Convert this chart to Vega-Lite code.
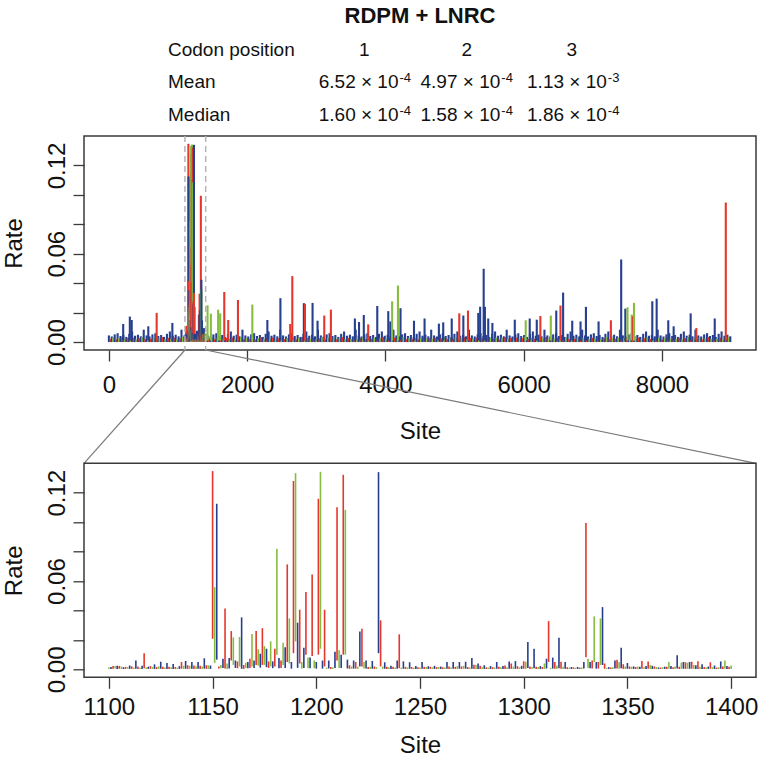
{
"$schema": "https://vega.github.io/schema/vega-lite/v6.json",
"padding": {"left": 1, "top": 0, "right": 0, "bottom": 0},
"background": "white",
"config": {
  "font": "Liberation Sans",
  "view": {"stroke": "#3a3a3a", "strokeWidth": 1.5},
  "axis": {"labelFont": "Liberation Sans", "titleFont": "Liberation Sans", "labelFontSize": 24, "titleFontSize": 24, "titleFontWeight": "normal", "labelColor": "#111", "titleColor": "#111", "tickColor": "#3a3a3a", "tickWidth": 1.3, "tickSize": 11, "domain": false, "grid": false, "labelOverlap": false}
},
"datasets": {
"sites": [
{"s":0,"p":3,"l":0,"h":0.0045},{"s":22,"p":1,"l":0,"h":0.0022},{"s":42,"p":3,"l":0,"h":0.0038},{"s":62,"p":2,"l":0,"h":0.003},
{"s":84,"p":3,"l":0,"h":0.0052},{"s":106,"p":1,"l":0,"h":0.0018},{"s":126,"p":3,"l":0,"h":0.006},{"s":146,"p":2,"l":0,"h":0.0026},
{"s":168,"p":3,"l":0,"h":0.0041},{"s":190,"p":1,"l":0,"h":0.0034},{"s":210,"p":3,"l":0,"h":0.0048},{"s":230,"p":2,"l":0,"h":0.002},
{"s":252,"p":3,"l":0,"h":0.0035},{"s":274,"p":1,"l":0,"h":0.0028},{"s":294,"p":3,"l":0,"h":0.0056},{"s":314,"p":2,"l":0,"h":0.0022},
{"s":336,"p":3,"l":0,"h":0.0072},{"s":358,"p":1,"l":0,"h":0.003},{"s":378,"p":3,"l":0,"h":0.0043},{"s":398,"p":2,"l":0,"h":0.0018},
{"s":420,"p":3,"l":0,"h":0.005},{"s":442,"p":1,"l":0,"h":0.0026},{"s":462,"p":3,"l":0,"h":0.0039},{"s":482,"p":2,"l":0,"h":0.0034},
{"s":504,"p":3,"l":0,"h":0.0084},{"s":526,"p":1,"l":0,"h":0.002},{"s":546,"p":3,"l":0,"h":0.0045},{"s":566,"p":2,"l":0,"h":0.0028},
{"s":588,"p":3,"l":0,"h":0.0038},{"s":610,"p":1,"l":0,"h":0.0022},{"s":630,"p":3,"l":0,"h":0.0052},{"s":650,"p":2,"l":0,"h":0.003},
{"s":672,"p":3,"l":0,"h":0.006},{"s":694,"p":1,"l":0,"h":0.0018},{"s":714,"p":3,"l":0,"h":0.0041},{"s":734,"p":2,"l":0,"h":0.0026},
{"s":756,"p":3,"l":0,"h":0.0048},{"s":778,"p":1,"l":0,"h":0.0034},{"s":798,"p":3,"l":0,"h":0.0035},{"s":818,"p":2,"l":0,"h":0.002},
{"s":840,"p":3,"l":0,"h":0.0056},{"s":862,"p":1,"l":0,"h":0.0028},{"s":882,"p":3,"l":0,"h":0.0072},{"s":902,"p":2,"l":0,"h":0.0022},
{"s":924,"p":3,"l":0,"h":0.0043},{"s":946,"p":1,"l":0,"h":0.003},{"s":966,"p":3,"l":0,"h":0.005},{"s":986,"p":2,"l":0,"h":0.0018},
{"s":1008,"p":3,"l":0,"h":0.0039},{"s":1030,"p":1,"l":0,"h":0.0026},{"s":1050,"p":3,"l":0,"h":0.0084},{"s":1070,"p":2,"l":0,"h":0.0034},
{"s":1092,"p":3,"l":0,"h":0.0045},
{"s":1428,"p":3,"l":0,"h":0.0045},{"s":1450,"p":1,"l":0,"h":0.0022},{"s":1470,"p":3,"l":0,"h":0.0038},{"s":1490,"p":2,"l":0,"h":0.003},
{"s":1512,"p":3,"l":0,"h":0.0052},{"s":1534,"p":1,"l":0,"h":0.0018},{"s":1554,"p":3,"l":0,"h":0.006},{"s":1574,"p":2,"l":0,"h":0.0026},
{"s":1596,"p":3,"l":0,"h":0.0041},{"s":1618,"p":1,"l":0,"h":0.0034},{"s":1638,"p":3,"l":0,"h":0.0048},{"s":1658,"p":2,"l":0,"h":0.002},
{"s":1680,"p":3,"l":0,"h":0.0035},{"s":1702,"p":1,"l":0,"h":0.0028},{"s":1722,"p":3,"l":0,"h":0.0056},{"s":1742,"p":2,"l":0,"h":0.0022},
{"s":1764,"p":3,"l":0,"h":0.0072},{"s":1786,"p":1,"l":0,"h":0.003},{"s":1806,"p":3,"l":0,"h":0.0043},{"s":1826,"p":2,"l":0,"h":0.0018},
{"s":1848,"p":3,"l":0,"h":0.005},{"s":1870,"p":1,"l":0,"h":0.0026},{"s":1890,"p":3,"l":0,"h":0.0039},{"s":1910,"p":2,"l":0,"h":0.0034},
{"s":1932,"p":3,"l":0,"h":0.0084},{"s":1954,"p":1,"l":0,"h":0.002},{"s":1974,"p":3,"l":0,"h":0.0045},{"s":1994,"p":2,"l":0,"h":0.0028},
{"s":2016,"p":3,"l":0,"h":0.0038},{"s":2038,"p":1,"l":0,"h":0.0022},{"s":2058,"p":3,"l":0,"h":0.0052},{"s":2078,"p":2,"l":0,"h":0.003},
{"s":2100,"p":3,"l":0,"h":0.006},{"s":2122,"p":1,"l":0,"h":0.0018},{"s":2142,"p":3,"l":0,"h":0.0041},{"s":2162,"p":2,"l":0,"h":0.0026},
{"s":2184,"p":3,"l":0,"h":0.0048},{"s":2206,"p":1,"l":0,"h":0.0034},{"s":2226,"p":3,"l":0,"h":0.0035},{"s":2246,"p":2,"l":0,"h":0.002},
{"s":2268,"p":3,"l":0,"h":0.0056},{"s":2290,"p":1,"l":0,"h":0.0028},{"s":2310,"p":3,"l":0,"h":0.0072},{"s":2330,"p":2,"l":0,"h":0.0022},
{"s":2352,"p":3,"l":0,"h":0.0043},{"s":2374,"p":1,"l":0,"h":0.003},{"s":2394,"p":3,"l":0,"h":0.005},{"s":2414,"p":2,"l":0,"h":0.0018},
{"s":2436,"p":3,"l":0,"h":0.0039},{"s":2458,"p":1,"l":0,"h":0.0026},{"s":2478,"p":3,"l":0,"h":0.0084},{"s":2498,"p":2,"l":0,"h":0.0034},
{"s":2520,"p":3,"l":0,"h":0.0045},{"s":2542,"p":1,"l":0,"h":0.002},{"s":2562,"p":3,"l":0,"h":0.0038},{"s":2582,"p":2,"l":0,"h":0.0028},
{"s":2604,"p":3,"l":0,"h":0.0052},{"s":2626,"p":1,"l":0,"h":0.0022},{"s":2646,"p":3,"l":0,"h":0.006},{"s":2666,"p":2,"l":0,"h":0.003},
{"s":2688,"p":3,"l":0,"h":0.0041},{"s":2710,"p":1,"l":0,"h":0.0018},{"s":2730,"p":3,"l":0,"h":0.0048},{"s":2750,"p":2,"l":0,"h":0.0026},
{"s":2772,"p":3,"l":0,"h":0.0035},{"s":2794,"p":1,"l":0,"h":0.0034},{"s":2814,"p":3,"l":0,"h":0.0056},{"s":2834,"p":2,"l":0,"h":0.002},
{"s":2856,"p":3,"l":0,"h":0.0072},{"s":2878,"p":1,"l":0,"h":0.0028},{"s":2898,"p":3,"l":0,"h":0.0043},{"s":2918,"p":2,"l":0,"h":0.0022},
{"s":2940,"p":3,"l":0,"h":0.005},{"s":2962,"p":1,"l":0,"h":0.003},{"s":2982,"p":3,"l":0,"h":0.0039},{"s":3002,"p":2,"l":0,"h":0.0018},
{"s":3024,"p":3,"l":0,"h":0.0084},{"s":3046,"p":1,"l":0,"h":0.0026},{"s":3066,"p":3,"l":0,"h":0.0045},{"s":3086,"p":2,"l":0,"h":0.0034},
{"s":3108,"p":3,"l":0,"h":0.0038},{"s":3130,"p":1,"l":0,"h":0.002},{"s":3150,"p":3,"l":0,"h":0.0052},{"s":3170,"p":2,"l":0,"h":0.0028},
{"s":3192,"p":3,"l":0,"h":0.006},{"s":3214,"p":1,"l":0,"h":0.0022},{"s":3234,"p":3,"l":0,"h":0.0041},{"s":3254,"p":2,"l":0,"h":0.003},
{"s":3276,"p":3,"l":0,"h":0.0048},{"s":3298,"p":1,"l":0,"h":0.0018},{"s":3318,"p":3,"l":0,"h":0.0035},{"s":3338,"p":2,"l":0,"h":0.0026},
{"s":3360,"p":3,"l":0,"h":0.0056},{"s":3382,"p":1,"l":0,"h":0.0034},{"s":3402,"p":3,"l":0,"h":0.0072},{"s":3422,"p":2,"l":0,"h":0.002},
{"s":3444,"p":3,"l":0,"h":0.0043},{"s":3466,"p":1,"l":0,"h":0.0028},{"s":3486,"p":3,"l":0,"h":0.005},{"s":3506,"p":2,"l":0,"h":0.0022},
{"s":3528,"p":3,"l":0,"h":0.0039},{"s":3550,"p":1,"l":0,"h":0.003},{"s":3570,"p":3,"l":0,"h":0.0084},{"s":3590,"p":2,"l":0,"h":0.0018},
{"s":3612,"p":3,"l":0,"h":0.0045},{"s":3634,"p":1,"l":0,"h":0.0026},{"s":3654,"p":3,"l":0,"h":0.0038},{"s":3674,"p":2,"l":0,"h":0.0034},
{"s":3696,"p":3,"l":0,"h":0.0052},{"s":3718,"p":1,"l":0,"h":0.002},{"s":3738,"p":3,"l":0,"h":0.006},{"s":3758,"p":2,"l":0,"h":0.0028},
{"s":3780,"p":3,"l":0,"h":0.0041},{"s":3802,"p":1,"l":0,"h":0.0022},{"s":3822,"p":3,"l":0,"h":0.0048},{"s":3842,"p":2,"l":0,"h":0.003},
{"s":3864,"p":3,"l":0,"h":0.0035},{"s":3886,"p":1,"l":0,"h":0.0018},{"s":3906,"p":3,"l":0,"h":0.0056},{"s":3926,"p":2,"l":0,"h":0.0026},
{"s":3948,"p":3,"l":0,"h":0.0072},{"s":3970,"p":1,"l":0,"h":0.0034},{"s":3990,"p":3,"l":0,"h":0.0043},{"s":4010,"p":2,"l":0,"h":0.002},
{"s":4032,"p":3,"l":0,"h":0.005},{"s":4054,"p":1,"l":0,"h":0.0028},{"s":4074,"p":3,"l":0,"h":0.0039},{"s":4094,"p":2,"l":0,"h":0.0022},
{"s":4116,"p":3,"l":0,"h":0.0084},{"s":4138,"p":1,"l":0,"h":0.003},{"s":4158,"p":3,"l":0,"h":0.0045},{"s":4178,"p":2,"l":0,"h":0.0018},
{"s":4200,"p":3,"l":0,"h":0.0038},{"s":4222,"p":1,"l":0,"h":0.0026},{"s":4242,"p":3,"l":0,"h":0.0052},{"s":4262,"p":2,"l":0,"h":0.0034},
{"s":4284,"p":3,"l":0,"h":0.006},{"s":4306,"p":1,"l":0,"h":0.002},{"s":4326,"p":3,"l":0,"h":0.0041},{"s":4346,"p":2,"l":0,"h":0.0028},
{"s":4368,"p":3,"l":0,"h":0.0048},{"s":4390,"p":1,"l":0,"h":0.0022},{"s":4410,"p":3,"l":0,"h":0.0035},{"s":4430,"p":2,"l":0,"h":0.003},
{"s":4452,"p":3,"l":0,"h":0.0056},{"s":4474,"p":1,"l":0,"h":0.0018},{"s":4494,"p":3,"l":0,"h":0.0072},{"s":4514,"p":2,"l":0,"h":0.0026},
{"s":4536,"p":3,"l":0,"h":0.0043},{"s":4558,"p":1,"l":0,"h":0.0034},{"s":4578,"p":3,"l":0,"h":0.005},{"s":4598,"p":2,"l":0,"h":0.002},
{"s":4620,"p":3,"l":0,"h":0.0039},{"s":4642,"p":1,"l":0,"h":0.0028},{"s":4662,"p":3,"l":0,"h":0.0084},{"s":4682,"p":2,"l":0,"h":0.0022},
{"s":4704,"p":3,"l":0,"h":0.0045},{"s":4726,"p":1,"l":0,"h":0.003},{"s":4746,"p":3,"l":0,"h":0.0038},{"s":4766,"p":2,"l":0,"h":0.0018},
{"s":4788,"p":3,"l":0,"h":0.0052},{"s":4810,"p":1,"l":0,"h":0.0026},{"s":4830,"p":3,"l":0,"h":0.006},{"s":4850,"p":2,"l":0,"h":0.0034},
{"s":4872,"p":3,"l":0,"h":0.0041},{"s":4894,"p":1,"l":0,"h":0.002},{"s":4914,"p":3,"l":0,"h":0.0048},{"s":4934,"p":2,"l":0,"h":0.0028},
{"s":4956,"p":3,"l":0,"h":0.0035},{"s":4978,"p":1,"l":0,"h":0.0022},{"s":4998,"p":3,"l":0,"h":0.0056},{"s":5018,"p":2,"l":0,"h":0.003},
{"s":5040,"p":3,"l":0,"h":0.0072},{"s":5062,"p":1,"l":0,"h":0.0018},{"s":5082,"p":3,"l":0,"h":0.0043},{"s":5102,"p":2,"l":0,"h":0.0026},
{"s":5124,"p":3,"l":0,"h":0.005},{"s":5146,"p":1,"l":0,"h":0.0034},{"s":5166,"p":3,"l":0,"h":0.0039},{"s":5186,"p":2,"l":0,"h":0.002},
{"s":5208,"p":3,"l":0,"h":0.0084},{"s":5230,"p":1,"l":0,"h":0.0028},{"s":5250,"p":3,"l":0,"h":0.0045},{"s":5270,"p":2,"l":0,"h":0.0022},
{"s":5292,"p":3,"l":0,"h":0.0038},{"s":5314,"p":1,"l":0,"h":0.003},{"s":5334,"p":3,"l":0,"h":0.0052},{"s":5354,"p":2,"l":0,"h":0.0018},
{"s":5376,"p":3,"l":0,"h":0.006},{"s":5398,"p":1,"l":0,"h":0.0026},{"s":5418,"p":3,"l":0,"h":0.0041},{"s":5438,"p":2,"l":0,"h":0.0034},
{"s":5460,"p":3,"l":0,"h":0.0048},{"s":5482,"p":1,"l":0,"h":0.002},{"s":5502,"p":3,"l":0,"h":0.0035},{"s":5522,"p":2,"l":0,"h":0.0028},
{"s":5544,"p":3,"l":0,"h":0.0056},{"s":5566,"p":1,"l":0,"h":0.0022},{"s":5586,"p":3,"l":0,"h":0.0072},{"s":5606,"p":2,"l":0,"h":0.003},
{"s":5628,"p":3,"l":0,"h":0.0043},{"s":5650,"p":1,"l":0,"h":0.0018},{"s":5670,"p":3,"l":0,"h":0.005},{"s":5690,"p":2,"l":0,"h":0.0026},
{"s":5712,"p":3,"l":0,"h":0.0039},{"s":5734,"p":1,"l":0,"h":0.0034},{"s":5754,"p":3,"l":0,"h":0.0084},{"s":5774,"p":2,"l":0,"h":0.002},
{"s":5796,"p":3,"l":0,"h":0.0045},{"s":5818,"p":1,"l":0,"h":0.0028},{"s":5838,"p":3,"l":0,"h":0.0038},{"s":5858,"p":2,"l":0,"h":0.0022},
{"s":5880,"p":3,"l":0,"h":0.0052},{"s":5902,"p":1,"l":0,"h":0.003},{"s":5922,"p":3,"l":0,"h":0.006},{"s":5942,"p":2,"l":0,"h":0.0018},
{"s":5964,"p":3,"l":0,"h":0.0041},{"s":5986,"p":1,"l":0,"h":0.0026},{"s":6006,"p":3,"l":0,"h":0.0048},{"s":6026,"p":2,"l":0,"h":0.0034},
{"s":6048,"p":3,"l":0,"h":0.0035},{"s":6070,"p":1,"l":0,"h":0.002},{"s":6090,"p":3,"l":0,"h":0.0056},{"s":6110,"p":2,"l":0,"h":0.0028},
{"s":6132,"p":3,"l":0,"h":0.0072},{"s":6154,"p":1,"l":0,"h":0.0022},{"s":6174,"p":3,"l":0,"h":0.0043},{"s":6194,"p":2,"l":0,"h":0.003},
{"s":6216,"p":3,"l":0,"h":0.005},{"s":6238,"p":1,"l":0,"h":0.0018},{"s":6258,"p":3,"l":0,"h":0.0039},{"s":6278,"p":2,"l":0,"h":0.0026},
{"s":6300,"p":3,"l":0,"h":0.0084},{"s":6322,"p":1,"l":0,"h":0.0034},{"s":6342,"p":3,"l":0,"h":0.0045},{"s":6362,"p":2,"l":0,"h":0.002},
{"s":6384,"p":3,"l":0,"h":0.0038},{"s":6406,"p":1,"l":0,"h":0.0028},{"s":6426,"p":3,"l":0,"h":0.0052},{"s":6446,"p":2,"l":0,"h":0.0022},
{"s":6468,"p":3,"l":0,"h":0.006},{"s":6490,"p":1,"l":0,"h":0.003},{"s":6510,"p":3,"l":0,"h":0.0041},{"s":6530,"p":2,"l":0,"h":0.0018},
{"s":6552,"p":3,"l":0,"h":0.0048},{"s":6574,"p":1,"l":0,"h":0.0026},{"s":6594,"p":3,"l":0,"h":0.0035},{"s":6614,"p":2,"l":0,"h":0.0034},
{"s":6636,"p":3,"l":0,"h":0.0056},{"s":6658,"p":1,"l":0,"h":0.002},{"s":6678,"p":3,"l":0,"h":0.0072},{"s":6698,"p":2,"l":0,"h":0.0028},
{"s":6720,"p":3,"l":0,"h":0.0043},{"s":6742,"p":1,"l":0,"h":0.0022},{"s":6762,"p":3,"l":0,"h":0.005},{"s":6782,"p":2,"l":0,"h":0.003},
{"s":6804,"p":3,"l":0,"h":0.0039},{"s":6826,"p":1,"l":0,"h":0.0018},{"s":6846,"p":3,"l":0,"h":0.0084},{"s":6866,"p":2,"l":0,"h":0.0026},
{"s":6888,"p":3,"l":0,"h":0.0045},{"s":6910,"p":1,"l":0,"h":0.0034},{"s":6930,"p":3,"l":0,"h":0.0038},{"s":6950,"p":2,"l":0,"h":0.002},
{"s":6972,"p":3,"l":0,"h":0.0052},{"s":6994,"p":1,"l":0,"h":0.0028},{"s":7014,"p":3,"l":0,"h":0.006},{"s":7034,"p":2,"l":0,"h":0.0022},
{"s":7056,"p":3,"l":0,"h":0.0041},{"s":7078,"p":1,"l":0,"h":0.003},{"s":7098,"p":3,"l":0,"h":0.0048},{"s":7118,"p":2,"l":0,"h":0.0018},
{"s":7140,"p":3,"l":0,"h":0.0035},{"s":7162,"p":1,"l":0,"h":0.0026},{"s":7182,"p":3,"l":0,"h":0.0056},{"s":7202,"p":2,"l":0,"h":0.0034},
{"s":7224,"p":3,"l":0,"h":0.0072},{"s":7246,"p":1,"l":0,"h":0.002},{"s":7266,"p":3,"l":0,"h":0.0043},{"s":7286,"p":2,"l":0,"h":0.0028},
{"s":7308,"p":3,"l":0,"h":0.005},{"s":7330,"p":1,"l":0,"h":0.0022},{"s":7350,"p":3,"l":0,"h":0.0039},{"s":7370,"p":2,"l":0,"h":0.003},
{"s":7392,"p":3,"l":0,"h":0.0084},{"s":7414,"p":1,"l":0,"h":0.0018},{"s":7434,"p":3,"l":0,"h":0.0045},{"s":7454,"p":2,"l":0,"h":0.0026},
{"s":7476,"p":3,"l":0,"h":0.0038},{"s":7498,"p":1,"l":0,"h":0.0034},{"s":7518,"p":3,"l":0,"h":0.0052},{"s":7538,"p":2,"l":0,"h":0.002},
{"s":7560,"p":3,"l":0,"h":0.006},{"s":7582,"p":1,"l":0,"h":0.0028},{"s":7602,"p":3,"l":0,"h":0.0041},{"s":7622,"p":2,"l":0,"h":0.0022},
{"s":7644,"p":3,"l":0,"h":0.0048},{"s":7666,"p":1,"l":0,"h":0.003},{"s":7686,"p":3,"l":0,"h":0.0035},{"s":7706,"p":2,"l":0,"h":0.0018},
{"s":7728,"p":3,"l":0,"h":0.0056},{"s":7750,"p":1,"l":0,"h":0.0026},{"s":7770,"p":3,"l":0,"h":0.0072},{"s":7790,"p":2,"l":0,"h":0.0034},
{"s":7812,"p":3,"l":0,"h":0.0043},{"s":7834,"p":1,"l":0,"h":0.002},{"s":7854,"p":3,"l":0,"h":0.005},{"s":7874,"p":2,"l":0,"h":0.0028},
{"s":7896,"p":3,"l":0,"h":0.0039},{"s":7918,"p":1,"l":0,"h":0.0022},{"s":7938,"p":3,"l":0,"h":0.0084},{"s":7958,"p":2,"l":0,"h":0.003},
{"s":7980,"p":3,"l":0,"h":0.0045},{"s":8002,"p":1,"l":0,"h":0.0018},{"s":8022,"p":3,"l":0,"h":0.0038},{"s":8042,"p":2,"l":0,"h":0.0026},
{"s":8064,"p":3,"l":0,"h":0.0052},{"s":8086,"p":1,"l":0,"h":0.0034},{"s":8106,"p":3,"l":0,"h":0.006},{"s":8126,"p":2,"l":0,"h":0.002},
{"s":8148,"p":3,"l":0,"h":0.0041},{"s":8170,"p":1,"l":0,"h":0.0028},{"s":8190,"p":3,"l":0,"h":0.0048},{"s":8210,"p":2,"l":0,"h":0.0022},
{"s":8232,"p":3,"l":0,"h":0.0035},{"s":8254,"p":1,"l":0,"h":0.003},{"s":8274,"p":3,"l":0,"h":0.0056},{"s":8294,"p":2,"l":0,"h":0.0018},
{"s":8316,"p":3,"l":0,"h":0.0072},{"s":8338,"p":1,"l":0,"h":0.0026},{"s":8358,"p":3,"l":0,"h":0.0043},{"s":8378,"p":2,"l":0,"h":0.0034},
{"s":8400,"p":3,"l":0,"h":0.005},{"s":8422,"p":1,"l":0,"h":0.002},{"s":8442,"p":3,"l":0,"h":0.0039},{"s":8462,"p":2,"l":0,"h":0.0028},
{"s":8484,"p":3,"l":0,"h":0.0084},{"s":8506,"p":1,"l":0,"h":0.0022},{"s":8526,"p":3,"l":0,"h":0.0045},{"s":8546,"p":2,"l":0,"h":0.003},
{"s":8568,"p":3,"l":0,"h":0.0038},{"s":8590,"p":1,"l":0,"h":0.0018},{"s":8610,"p":3,"l":0,"h":0.0052},{"s":8630,"p":2,"l":0,"h":0.0026},
{"s":8652,"p":3,"l":0,"h":0.006},{"s":8674,"p":1,"l":0,"h":0.0034},{"s":8694,"p":3,"l":0,"h":0.0041},{"s":8714,"p":2,"l":0,"h":0.002},
{"s":8736,"p":3,"l":0,"h":0.0048},{"s":8758,"p":1,"l":0,"h":0.0028},{"s":8778,"p":3,"l":0,"h":0.0035},{"s":8798,"p":2,"l":0,"h":0.0022},
{"s":8820,"p":3,"l":0,"h":0.0056},{"s":8842,"p":1,"l":0,"h":0.003},{"s":8862,"p":3,"l":0,"h":0.0072},{"s":8882,"p":2,"l":0,"h":0.0018},
{"s":8904,"p":3,"l":0,"h":0.0043},{"s":8926,"p":1,"l":0,"h":0.0026},{"s":8946,"p":3,"l":0,"h":0.005},{"s":8966,"p":2,"l":0,"h":0.0034},
{"s":8988,"p":3,"l":0,"h":0.0039},
{"s":1100,"p":2,"l":0.0003,"h":0.0012},{"s":1101,"p":3,"l":0.0002,"h":0.0016},{"s":1102,"p":1,"l":0.0004,"h":0.0022},
{"s":1103,"p":2,"l":0.0005,"h":0.0023},{"s":1104,"p":3,"l":0.0003,"h":0.0024},{"s":1105,"p":1,"l":0.0004,"h":0.0023},
{"s":1106,"p":2,"l":0.0003,"h":0.0019},{"s":1107,"p":3,"l":0.0002,"h":0.0014},{"s":1108,"p":1,"l":0.0003,"h":0.0017},
{"s":1109,"p":2,"l":0.0004,"h":0.0016},{"s":1110,"p":3,"l":0.0003,"h":0.0026},{"s":1111,"p":1,"l":0.0003,"h":0.0021},
{"s":1112,"p":2,"l":0.0002,"h":0.0012},{"s":1113,"p":3,"l":0.0004,"h":0.006},{"s":1114,"p":1,"l":0.0003,"h":0.0019},
{"s":1115,"p":2,"l":0.0002,"h":0.0011},{"s":1116,"p":3,"l":0.0003,"h":0.0024},{"s":1117,"p":1,"l":0.0008,"h":0.011},
{"s":1118,"p":2,"l":0.0002,"h":0.0013},{"s":1119,"p":3,"l":0.0003,"h":0.0018},{"s":1120,"p":1,"l":0.0004,"h":0.0022},
{"s":1121,"p":2,"l":0.0003,"h":0.0016},{"s":1122,"p":3,"l":0.0003,"h":0.0034},{"s":1123,"p":1,"l":0.0002,"h":0.0015},
{"s":1124,"p":2,"l":0.0003,"h":0.002},{"s":1125,"p":3,"l":0.0004,"h":0.0052},{"s":1126,"p":1,"l":0.0003,"h":0.0018},
{"s":1127,"p":2,"l":0.0002,"h":0.0012},{"s":1128,"p":3,"l":0.0003,"h":0.0043},{"s":1129,"p":1,"l":0.0003,"h":0.0017},
{"s":1130,"p":2,"l":0.0002,"h":0.0014},{"s":1131,"p":3,"l":0.0003,"h":0.0036},{"s":1132,"p":1,"l":0.0003,"h":0.0016},
{"s":1133,"p":2,"l":0.0002,"h":0.0012},{"s":1134,"p":3,"l":0.0003,"h":0.0022},{"s":1135,"p":1,"l":0.0004,"h":0.005},
{"s":1136,"p":2,"l":0.0003,"h":0.0025},{"s":1137,"p":3,"l":0.0004,"h":0.0057},{"s":1138,"p":1,"l":0.0003,"h":0.0028},
{"s":1139,"p":2,"l":0.0003,"h":0.0024},{"s":1140,"p":3,"l":0.0004,"h":0.005},{"s":1141,"p":1,"l":0.0003,"h":0.0026},
{"s":1142,"p":2,"l":0.0003,"h":0.0021},{"s":1143,"p":3,"l":0.0004,"h":0.005},{"s":1144,"p":1,"l":0.0003,"h":0.0024},
{"s":1145,"p":2,"l":0.0002,"h":0.0019},{"s":1146,"p":3,"l":0.0005,"h":0.0075},{"s":1147,"p":1,"l":0.0003,"h":0.0028},
{"s":1148,"p":2,"l":0.0003,"h":0.0027},{"s":1149,"p":3,"l":0.0003,"h":0.0026},{"s":1150,"p":1,"l":0.0208,"h":0.1347},
{"s":1151,"p":2,"l":0.0043,"h":0.0559},{"s":1152,"p":3,"l":0.0066,"h":0.1125},{"s":1153,"p":1,"l":0.0005,"h":0.002},
{"s":1154,"p":2,"l":0.0008,"h":0.003},{"s":1155,"p":3,"l":0.001,"h":0.0072},{"s":1156,"p":1,"l":0.0005,"h":0.0414},
{"s":1157,"p":2,"l":0.0003,"h":0.004},{"s":1158,"p":3,"l":0.0006,"h":0.0077},{"s":1159,"p":1,"l":0.006,"h":0.026},
{"s":1160,"p":2,"l":0.003,"h":0.0217},{"s":1161,"p":3,"l":0.001,"h":0.006},{"s":1162,"p":1,"l":0.0008,"h":0.0054},
{"s":1163,"p":2,"l":0.002,"h":0.022},{"s":1164,"p":3,"l":0.0004,"h":0.0353},{"s":1165,"p":1,"l":0.0003,"h":0.003},
{"s":1166,"p":2,"l":0.001,"h":0.0045},{"s":1167,"p":3,"l":0.0008,"h":0.005},{"s":1168,"p":1,"l":0.001,"h":0.0072},
{"s":1169,"p":2,"l":0.002,"h":0.024},{"s":1170,"p":3,"l":0.001,"h":0.006},{"s":1171,"p":1,"l":0.003,"h":0.026},
{"s":1172,"p":2,"l":0.0025,"h":0.0136},{"s":1173,"p":3,"l":0.0012,"h":0.0106},{"s":1174,"p":1,"l":0.003,"h":0.028},
{"s":1175,"p":2,"l":0.003,"h":0.0158},{"s":1176,"p":3,"l":0.0015,"h":0.014},{"s":1177,"p":1,"l":0.001,"h":0.0054},
{"s":1178,"p":2,"l":0.002,"h":0.019},{"s":1179,"p":3,"l":0.0008,"h":0.0054},{"s":1180,"p":1,"l":0.002,"h":0.014},
{"s":1181,"p":2,"l":0.01,"h":0.082},{"s":1182,"p":3,"l":0.0008,"h":0.0077},{"s":1183,"p":1,"l":0.001,"h":0.006},
{"s":1184,"p":2,"l":0.003,"h":0.018},{"s":1185,"p":3,"l":0.001,"h":0.015},{"s":1186,"p":1,"l":0.005,"h":0.0713},
{"s":1187,"p":2,"l":0.004,"h":0.0346},{"s":1188,"p":3,"l":0.0005,"h":0.005},{"s":1189,"p":1,"l":0.011,"h":0.128},
{"s":1190,"p":2,"l":0.019,"h":0.1333},{"s":1191,"p":3,"l":0.001,"h":0.0317},{"s":1192,"p":1,"l":0.004,"h":0.0405},
{"s":1193,"p":2,"l":0.0005,"h":0.005},{"s":1194,"p":3,"l":0.001,"h":0.0147},{"s":1195,"p":1,"l":0.01,"h":0.0525},
{"s":1196,"p":2,"l":0.0008,"h":0.008},{"s":1197,"p":3,"l":0.0008,"h":0.008},{"s":1198,"p":1,"l":0.009,"h":0.0645},
{"s":1199,"p":2,"l":0.0008,"h":0.006},{"s":1200,"p":3,"l":0.0005,"h":0.005},{"s":1201,"p":1,"l":0.01,"h":0.1159},
{"s":1202,"p":2,"l":0.014,"h":0.1342},{"s":1203,"p":3,"l":0.0005,"h":0.006},{"s":1204,"p":1,"l":0.002,"h":0.0405},
{"s":1205,"p":2,"l":0.0003,"h":0.0012},{"s":1206,"p":3,"l":0.0006,"h":0.006},{"s":1207,"p":1,"l":0.0003,"h":0.0016},
{"s":1208,"p":2,"l":0.0002,"h":0.0012},{"s":1209,"p":3,"l":0.001,"h":0.012},{"s":1210,"p":1,"l":0.006,"h":0.1102},
{"s":1211,"p":2,"l":0.001,"h":0.013},{"s":1212,"p":3,"l":0.001,"h":0.01},{"s":1213,"p":1,"l":0.01,"h":0.1322},
{"s":1214,"p":2,"l":0.01,"h":0.1084},{"s":1215,"p":3,"l":0.0006,"h":0.0066},{"s":1216,"p":1,"l":0.0004,"h":0.0028},
{"s":1217,"p":2,"l":0.0003,"h":0.002},{"s":1218,"p":3,"l":0.0005,"h":0.006},{"s":1219,"p":1,"l":0.0005,"h":0.005},
{"s":1220,"p":2,"l":0.0003,"h":0.0018},{"s":1221,"p":3,"l":0.002,"h":0.0258},{"s":1222,"p":1,"l":0.002,"h":0.0276},
{"s":1223,"p":2,"l":0.0005,"h":0.005},{"s":1224,"p":3,"l":0.0005,"h":0.006},{"s":1225,"p":1,"l":0.0003,"h":0.0016},
{"s":1226,"p":2,"l":0.0003,"h":0.0018},{"s":1227,"p":3,"l":0.0004,"h":0.0057},{"s":1228,"p":1,"l":0.0003,"h":0.002},
{"s":1229,"p":2,"l":0.0003,"h":0.0015},{"s":1230,"p":3,"l":0.011,"h":0.134},{"s":1231,"p":1,"l":0.002,"h":0.0333},
{"s":1232,"p":2,"l":0.0003,"h":0.002},{"s":1233,"p":3,"l":0.0004,"h":0.0048},{"s":1234,"p":1,"l":0.0003,"h":0.0018},
{"s":1235,"p":2,"l":0.0002,"h":0.0014},{"s":1236,"p":3,"l":0.0003,"h":0.0025},{"s":1237,"p":1,"l":0.0003,"h":0.0017},
{"s":1238,"p":2,"l":0.0002,"h":0.0013},{"s":1239,"p":3,"l":0.0004,"h":0.006},{"s":1240,"p":1,"l":0.0008,"h":0.0238},
{"s":1241,"p":2,"l":0.0002,"h":0.0012},{"s":1242,"p":3,"l":0.0004,"h":0.0054},{"s":1243,"p":1,"l":0.0003,"h":0.0017},
{"s":1244,"p":2,"l":0.0002,"h":0.0013},{"s":1245,"p":3,"l":0.0004,"h":0.0048},{"s":1246,"p":1,"l":0.0003,"h":0.0016},
{"s":1247,"p":2,"l":0.0002,"h":0.0012},{"s":1248,"p":3,"l":0.0003,"h":0.0023},{"s":1249,"p":1,"l":0.0003,"h":0.0015},
{"s":1250,"p":2,"l":0.0002,"h":0.0013},{"s":1251,"p":3,"l":0.0004,"h":0.005},{"s":1252,"p":1,"l":0.0002,"h":0.0018},
{"s":1253,"p":2,"l":0.0002,"h":0.0016},{"s":1254,"p":3,"l":0.0003,"h":0.0021},{"s":1255,"p":1,"l":0.0003,"h":0.0018},
{"s":1256,"p":2,"l":0.0002,"h":0.0014},{"s":1257,"p":3,"l":0.0003,"h":0.0024},{"s":1258,"p":1,"l":0.0002,"h":0.0015},
{"s":1259,"p":2,"l":0.0003,"h":0.0017},{"s":1260,"p":3,"l":0.0003,"h":0.0019},{"s":1261,"p":1,"l":0.0002,"h":0.0014},
{"s":1262,"p":2,"l":0.0002,"h":0.0012},{"s":1263,"p":3,"l":0.0004,"h":0.005},{"s":1264,"p":1,"l":0.0003,"h":0.0019},
{"s":1265,"p":2,"l":0.0002,"h":0.0013},{"s":1266,"p":3,"l":0.0004,"h":0.005},{"s":1267,"p":1,"l":0.0003,"h":0.0017},
{"s":1268,"p":2,"l":0.0002,"h":0.0022},{"s":1269,"p":3,"l":0.0004,"h":0.005},{"s":1270,"p":1,"l":0.0003,"h":0.002},
{"s":1271,"p":2,"l":0.0003,"h":0.0024},{"s":1272,"p":3,"l":0.0004,"h":0.0052},{"s":1273,"p":1,"l":0.0002,"h":0.0016},
{"s":1274,"p":2,"l":0.0002,"h":0.0013},{"s":1275,"p":3,"l":0.0004,"h":0.0077},{"s":1276,"p":1,"l":0.0003,"h":0.0032},
{"s":1277,"p":2,"l":0.0002,"h":0.003},{"s":1278,"p":3,"l":0.0003,"h":0.004},{"s":1279,"p":1,"l":0.0003,"h":0.0024},
{"s":1280,"p":2,"l":0.0002,"h":0.0015},{"s":1281,"p":3,"l":0.0003,"h":0.0028},{"s":1282,"p":1,"l":0.0002,"h":0.0014},
{"s":1283,"p":2,"l":0.0002,"h":0.0012},{"s":1284,"p":3,"l":0.0003,"h":0.0022},{"s":1285,"p":1,"l":0.0002,"h":0.0015},
{"s":1286,"p":2,"l":0.0002,"h":0.0012},{"s":1287,"p":3,"l":0.0004,"h":0.005},{"s":1288,"p":1,"l":0.0003,"h":0.0018},
{"s":1289,"p":2,"l":0.0002,"h":0.0014},{"s":1290,"p":3,"l":0.0003,"h":0.0023},{"s":1291,"p":1,"l":0.0003,"h":0.0026},
{"s":1292,"p":2,"l":0.0002,"h":0.0015},{"s":1293,"p":3,"l":0.0004,"h":0.0054},{"s":1294,"p":1,"l":0.0003,"h":0.004},
{"s":1295,"p":2,"l":0.0002,"h":0.0018},{"s":1296,"p":3,"l":0.0004,"h":0.0056},{"s":1297,"p":1,"l":0.0003,"h":0.0022},
{"s":1298,"p":2,"l":0.0002,"h":0.0014},{"s":1299,"p":3,"l":0.0003,"h":0.0024},{"s":1300,"p":1,"l":0.0004,"h":0.0055},
{"s":1301,"p":2,"l":0.0003,"h":0.0052},{"s":1302,"p":3,"l":0.001,"h":0.0186},{"s":1303,"p":1,"l":0.0003,"h":0.002},
{"s":1304,"p":2,"l":0.0002,"h":0.0016},{"s":1305,"p":3,"l":0.0008,"h":0.014},{"s":1306,"p":1,"l":0.0003,"h":0.0018},
{"s":1307,"p":2,"l":0.0002,"h":0.0015},{"s":1308,"p":3,"l":0.0003,"h":0.0022},{"s":1309,"p":1,"l":0.0002,"h":0.0016},
{"s":1310,"p":2,"l":0.0003,"h":0.004},{"s":1311,"p":3,"l":0.0006,"h":0.0072},{"s":1312,"p":1,"l":0.005,"h":0.0328},
{"s":1313,"p":2,"l":0.0002,"h":0.001},{"s":1314,"p":3,"l":0.0005,"h":0.008},{"s":1315,"p":1,"l":0.0004,"h":0.005},
{"s":1316,"p":2,"l":0.0003,"h":0.0026},{"s":1317,"p":3,"l":0.0008,"h":0.0215},{"s":1318,"p":1,"l":0.0004,"h":0.0052},
{"s":1319,"p":2,"l":0.0002,"h":0.0018},{"s":1320,"p":3,"l":0.0004,"h":0.005},{"s":1321,"p":1,"l":0.0002,"h":0.0015},
{"s":1322,"p":2,"l":0.0002,"h":0.0012},{"s":1323,"p":3,"l":0.0003,"h":0.0016},{"s":1324,"p":1,"l":0.0002,"h":0.0013},
{"s":1325,"p":2,"l":0.0002,"h":0.0011},{"s":1326,"p":3,"l":0.0003,"h":0.0016},{"s":1327,"p":1,"l":0.0002,"h":0.0012},
{"s":1328,"p":2,"l":0.0002,"h":0.0013},{"s":1329,"p":3,"l":0.0005,"h":0.005},{"s":1330,"p":1,"l":0.0082,"h":0.0994},
{"s":1331,"p":2,"l":0.001,"h":0.0072},{"s":1332,"p":3,"l":0.0008,"h":0.005},{"s":1333,"p":1,"l":0.0006,"h":0.006},
{"s":1334,"p":2,"l":0.005,"h":0.036},{"s":1335,"p":3,"l":0.0005,"h":0.005},{"s":1336,"p":1,"l":0.0005,"h":0.005},
{"s":1337,"p":2,"l":0.003,"h":0.0346},{"s":1338,"p":3,"l":0.003,"h":0.0423},{"s":1339,"p":1,"l":0.0004,"h":0.004},
{"s":1340,"p":2,"l":0.0002,"h":0.001},{"s":1341,"p":3,"l":0.0003,"h":0.0015},{"s":1342,"p":1,"l":0.0002,"h":0.0012},
{"s":1343,"p":2,"l":0.0002,"h":0.0014},{"s":1344,"p":3,"l":0.0005,"h":0.006},{"s":1345,"p":1,"l":0.0005,"h":0.0065},
{"s":1346,"p":2,"l":0.0004,"h":0.005},{"s":1347,"p":3,"l":0.0008,"h":0.0147},{"s":1348,"p":1,"l":0.0003,"h":0.0035},
{"s":1349,"p":2,"l":0.0002,"h":0.002},{"s":1350,"p":3,"l":0.0004,"h":0.0043},{"s":1351,"p":1,"l":0.0003,"h":0.002},
{"s":1352,"p":2,"l":0.0002,"h":0.0018},{"s":1353,"p":3,"l":0.0003,"h":0.002},{"s":1354,"p":1,"l":0.0002,"h":0.0016},
{"s":1355,"p":2,"l":0.0002,"h":0.0019},{"s":1356,"p":3,"l":0.0003,"h":0.0018},{"s":1357,"p":1,"l":0.0004,"h":0.0056},
{"s":1358,"p":2,"l":0.0002,"h":0.0015},{"s":1359,"p":3,"l":0.0003,"h":0.0022},{"s":1360,"p":1,"l":0.0004,"h":0.0054},
{"s":1361,"p":2,"l":0.0003,"h":0.003},{"s":1362,"p":3,"l":0.0003,"h":0.0024},{"s":1363,"p":1,"l":0.0003,"h":0.002},
{"s":1364,"p":2,"l":0.0002,"h":0.0015},{"s":1365,"p":3,"l":0.0003,"h":0.0013},{"s":1366,"p":1,"l":0.0002,"h":0.0012},
{"s":1367,"p":2,"l":0.0002,"h":0.0014},{"s":1368,"p":3,"l":0.0003,"h":0.0018},{"s":1369,"p":1,"l":0.0002,"h":0.0017},
{"s":1370,"p":2,"l":0.0004,"h":0.005},{"s":1371,"p":3,"l":0.0003,"h":0.0022},{"s":1372,"p":1,"l":0.0002,"h":0.0014},
{"s":1373,"p":2,"l":0.0002,"h":0.002},{"s":1374,"p":3,"l":0.0006,"h":0.0095},{"s":1375,"p":1,"l":0.0002,"h":0.0018},
{"s":1376,"p":2,"l":0.0003,"h":0.0046},{"s":1377,"p":3,"l":0.0004,"h":0.005},{"s":1378,"p":1,"l":0.0003,"h":0.0048},
{"s":1379,"p":2,"l":0.0003,"h":0.0045},{"s":1380,"p":3,"l":0.0004,"h":0.005},{"s":1381,"p":1,"l":0.0004,"h":0.0052},
{"s":1382,"p":2,"l":0.0003,"h":0.003},{"s":1383,"p":3,"l":0.0003,"h":0.0028},{"s":1384,"p":1,"l":0.0003,"h":0.0055},
{"s":1385,"p":2,"l":0.0002,"h":0.0018},{"s":1386,"p":3,"l":0.0003,"h":0.0034},{"s":1387,"p":1,"l":0.0002,"h":0.0016},
{"s":1388,"p":2,"l":0.0002,"h":0.0013},{"s":1389,"p":3,"l":0.0003,"h":0.0019},{"s":1390,"p":1,"l":0.0004,"h":0.0048},
{"s":1391,"p":2,"l":0.0002,"h":0.0015},{"s":1392,"p":3,"l":0.0003,"h":0.0026},{"s":1393,"p":1,"l":0.0002,"h":0.0012},
{"s":1394,"p":2,"l":0.0002,"h":0.0014},{"s":1395,"p":3,"l":0.0004,"h":0.0054},{"s":1396,"p":1,"l":0.0003,"h":0.002},
{"s":1397,"p":2,"l":0.0004,"h":0.006},{"s":1398,"p":3,"l":0.0003,"h":0.0023},{"s":1399,"p":1,"l":0.0002,"h":0.0018},
{"s":1400,"p":2,"l":0.0003,"h":0.0026},
{"s":207,"p":3,"l":0.001,"h":0.0123},{"s":303,"p":3,"l":0.001,"h":0.0173},{"s":330,"p":3,"l":0.001,"h":0.015},
{"s":570,"p":3,"l":0.001,"h":0.0107},{"s":691,"p":1,"l":0.001,"h":0.0198},{"s":918,"p":3,"l":0.001,"h":0.013},
{"s":1427,"p":2,"l":0.001,"h":0.025},{"s":1475,"p":2,"l":0.001,"h":0.0193},{"s":1580,"p":2,"l":0.001,"h":0.022},
{"s":1610,"p":2,"l":0.001,"h":0.0195},{"s":1669,"p":1,"l":0.001,"h":0.034},{"s":1726,"p":1,"l":0.001,"h":0.015},
{"s":1867,"p":1,"l":0.001,"h":0.0286},{"s":2075,"p":2,"l":0.001,"h":0.0255},{"s":2292,"p":3,"l":0.001,"h":0.015},
{"s":2481,"p":3,"l":0.001,"h":0.0298},{"s":2623,"p":1,"l":0.001,"h":0.0123},{"s":2653,"p":1,"l":0.001,"h":0.0448},
{"s":2820,"p":3,"l":0.001,"h":0.0264},{"s":2836,"p":1,"l":0.001,"h":0.026},{"s":2946,"p":3,"l":0.001,"h":0.0266},
{"s":3018,"p":3,"l":0.001,"h":0.0145},{"s":3115,"p":1,"l":0.001,"h":0.018},{"s":3211,"p":1,"l":0.001,"h":0.022},
{"s":3558,"p":3,"l":0.001,"h":0.016},{"s":3618,"p":3,"l":0.001,"h":0.0136},{"s":3687,"p":3,"l":0.001,"h":0.0184},
{"s":3751,"p":1,"l":0.001,"h":0.012},{"s":3882,"p":3,"l":0.001,"h":0.0245},{"s":4041,"p":3,"l":0.001,"h":0.021},
{"s":4071,"p":3,"l":0.001,"h":0.014},{"s":4097,"p":2,"l":0.001,"h":0.0277},{"s":4181,"p":2,"l":0.001,"h":0.0384},
{"s":4218,"p":3,"l":0.001,"h":0.023},{"s":4413,"p":3,"l":0.001,"h":0.0145},{"s":4566,"p":3,"l":0.001,"h":0.016},
{"s":4773,"p":3,"l":0.001,"h":0.0125},{"s":4836,"p":3,"l":0.001,"h":0.0134},{"s":4959,"p":3,"l":0.001,"h":0.016},
{"s":5068,"p":1,"l":0.001,"h":0.0195},{"s":5127,"p":3,"l":0.001,"h":0.018},{"s":5194,"p":1,"l":0.001,"h":0.0214},
{"s":5343,"p":3,"l":0.001,"h":0.0198},{"s":5370,"p":3,"l":0.001,"h":0.024},{"s":5421,"p":3,"l":0.001,"h":0.0498},
{"s":5439,"p":3,"l":0.001,"h":0.0239},{"s":5487,"p":3,"l":0.001,"h":0.016},{"s":5547,"p":3,"l":0.001,"h":0.013},
{"s":5871,"p":3,"l":0.001,"h":0.0152},{"s":6029,"p":2,"l":0.001,"h":0.0148},{"s":6087,"p":3,"l":0.001,"h":0.016},
{"s":6189,"p":3,"l":0.001,"h":0.0152},{"s":6241,"p":1,"l":0.001,"h":0.0177},{"s":6392,"p":2,"l":0.001,"h":0.018},
{"s":6471,"p":3,"l":0.001,"h":0.0214},{"s":6532,"p":1,"l":0.001,"h":0.0248},{"s":6570,"p":3,"l":0.001,"h":0.0336},
{"s":6702,"p":3,"l":0.001,"h":0.0145},{"s":6822,"p":3,"l":0.001,"h":0.014},{"s":6900,"p":3,"l":0.001,"h":0.0239},
{"s":7083,"p":3,"l":0.001,"h":0.014},{"s":7261,"p":1,"l":0.001,"h":0.0148},{"s":7410,"p":3,"l":0.001,"h":0.0561},
{"s":7470,"p":3,"l":0.001,"h":0.0227},{"s":7502,"p":2,"l":0.001,"h":0.0236},{"s":7562,"p":2,"l":0.001,"h":0.0186},
{"s":7579,"p":1,"l":0.001,"h":0.0175},{"s":7595,"p":2,"l":0.001,"h":0.0266},{"s":7860,"p":3,"l":0.001,"h":0.0277},
{"s":7923,"p":3,"l":0.001,"h":0.0295},{"s":8091,"p":3,"l":0.001,"h":0.0148},{"s":8169,"p":3,"l":0.001,"h":0.0107},
{"s":8415,"p":3,"l":0.001,"h":0.0195},{"s":8497,"p":1,"l":0.001,"h":0.0095},{"s":8763,"p":3,"l":0.001,"h":0.016},
{"s":8923,"p":1,"l":0.001,"h":0.0948}
]
},
"bounds": "flush",
"spacing": 10,
"vconcat": [
  {
    "width": 672, "height": 126,
    "view": {"stroke": null},
    "encoding": {
      "x": {"field": "x", "type": "quantitative", "scale": {"domain": [0, 1], "nice": false, "zero": false}, "axis": null},
      "y": {"field": "r", "type": "quantitative", "scale": {"domain": [-0.69, 3.14], "reverse": true, "nice": false, "zero": false}, "axis": null},
      "text": {"field": "t", "type": "nominal"}
    },
    "layer": [
      {"data": {"values": [{"x": 0.5, "r": 0, "t": "RDPM + LNRC"}]},
       "mark": {"type": "text", "font": "Liberation Sans", "fontSize": 22, "fontWeight": "bold", "align": "center", "baseline": "alphabetic", "color": "#111"}},
      {"data": {"values": [{"x": 0.125, "r": 1, "t": "Codon position"}, {"x": 0.125, "r": 2, "t": "Mean"}, {"x": 0.125, "r": 3, "t": "Median"}]},
       "mark": {"type": "text", "font": "Liberation Sans", "fontSize": 19, "align": "left", "baseline": "alphabetic", "color": "#111"}},
      {"data": {"values": [{"x": 0.417, "r": 1, "t": "1"}, {"x": 0.5695, "r": 1, "t": "2"}, {"x": 0.726, "r": 1, "t": "3"}]},
       "mark": {"type": "text", "font": "Liberation Sans", "fontSize": 19, "align": "center", "baseline": "alphabetic", "color": "#111"}},
      {"data": {"values": [{"x": 0.468, "r": 2, "t": "6.52 × 10"}, {"x": 0.6195, "r": 2, "t": "4.97 × 10"}, {"x": 0.778, "r": 2, "t": "1.13 × 10"},
                           {"x": 0.468, "r": 3, "t": "1.60 × 10"}, {"x": 0.6195, "r": 3, "t": "1.58 × 10"}, {"x": 0.778, "r": 3, "t": "1.86 × 10"}]},
       "mark": {"type": "text", "font": "Liberation Sans", "fontSize": 19, "align": "right", "baseline": "alphabetic", "color": "#111"}},
      {"data": {"values": [{"x": 0.468, "r": 2, "t": "-4"}, {"x": 0.6195, "r": 2, "t": "-4"}, {"x": 0.778, "r": 2, "t": "-3"},
                           {"x": 0.468, "r": 3, "t": "-4"}, {"x": 0.6195, "r": 3, "t": "-4"}, {"x": 0.778, "r": 3, "t": "-4"}]},
       "mark": {"type": "text", "font": "Liberation Sans", "fontSize": 13, "align": "left", "baseline": "alphabetic", "dx": 1, "dy": -6, "color": "#111"}}
    ]
  },
  {
    "bounds": "flush",
    "spacing": 113.3,
    "vconcat": [
      {
        "width": 672, "height": 214,
        "layer": [
          {
            "data": {"name": "sites"},
            "mark": {"type": "rule", "strokeWidth": 2.1},
            "encoding": {
              "x": {"field": "s", "type": "quantitative", "scale": {"domain": [-360, 9360], "nice": false, "zero": false},
                    "axis": {"values": [0, 2000, 4000, 6000, 8000], "format": "d", "title": "Site", "labelPadding": 12, "titlePadding": 22}},
              "y": {"field": "l", "type": "quantitative", "scale": {"domain": [-0.0054, 0.14], "nice": false, "zero": false},
                    "axis": {"title": "Rate", "values": [0, 0.02, 0.04, 0.06, 0.08, 0.1, 0.12], "labelAngle": 270, "labelPadding": 4, "titlePadding": 19,
                             "labelExpr": "abs(datum.value*50 - round(datum.value*50/3)*3) < 0.01 ? format(datum.value, '.2f') : ''"}},
              "y2": {"field": "h"},
              "color": {"field": "p", "type": "nominal", "scale": {"domain": [1, 2, 3], "range": ["#e5372b", "#86bd3f", "#263f8e"]}, "legend": null}
            }
          },
          {
            "data": {"values": [{"s": 1100}, {"s": 1400}]},
            "mark": {"type": "rule", "strokeDash": [6, 4], "color": "#b5b5b5", "strokeWidth": 1.5},
            "encoding": {"x": {"field": "s", "type": "quantitative"}}
          },
          {
            "data": {"values": [{"cx": 1100, "cy": 0, "g": "a"}, {"cx": -360, "cy": 1, "g": "a"}, {"cx": 1400, "cy": 0, "g": "b"}, {"cx": 9360, "cy": 1, "g": "b"}]},
            "mark": {"type": "line", "color": "#7a7a7a", "strokeWidth": 1.2, "clip": false},
            "encoding": {
              "x": {"field": "cx", "type": "quantitative"},
              "y": {"field": "cy", "type": "quantitative", "scale": {"domain": [0, 1], "range": [214, 327.3], "nice": false, "zero": false}, "axis": null},
              "detail": {"field": "g", "type": "nominal"}
            }
          }
        ],
        "resolve": {"scale": {"y": "independent"}}
      },
      {
        "width": 672, "height": 214,
        "data": {"name": "sites"},
        "transform": [{"filter": "datum.s >= 1100 && datum.s <= 1400"}],
        "mark": {"type": "rule", "strokeWidth": 1.6},
        "encoding": {
          "x": {"field": "s", "type": "quantitative", "scale": {"domain": [1088, 1412], "nice": false, "zero": false},
                "axis": {"values": [1100, 1150, 1200, 1250, 1300, 1350, 1400], "format": "d", "title": "Site", "labelPadding": 7, "titlePadding": 14}},
          "y": {"field": "l", "type": "quantitative", "scale": {"domain": [-0.0054, 0.14], "nice": false, "zero": false},
                "axis": {"title": "Rate", "values": [0, 0.02, 0.04, 0.06, 0.08, 0.1, 0.12], "labelAngle": 270, "labelPadding": 4, "titlePadding": 19,
                         "labelExpr": "abs(datum.value*50 - round(datum.value*50/3)*3) < 0.01 ? format(datum.value, '.2f') : ''"}},
          "y2": {"field": "h"},
          "color": {"field": "p", "type": "nominal", "scale": {"domain": [1, 2, 3], "range": ["#e5372b", "#86bd3f", "#263f8e"]}, "legend": null}
        }
      }
    ]
  }
]
}
